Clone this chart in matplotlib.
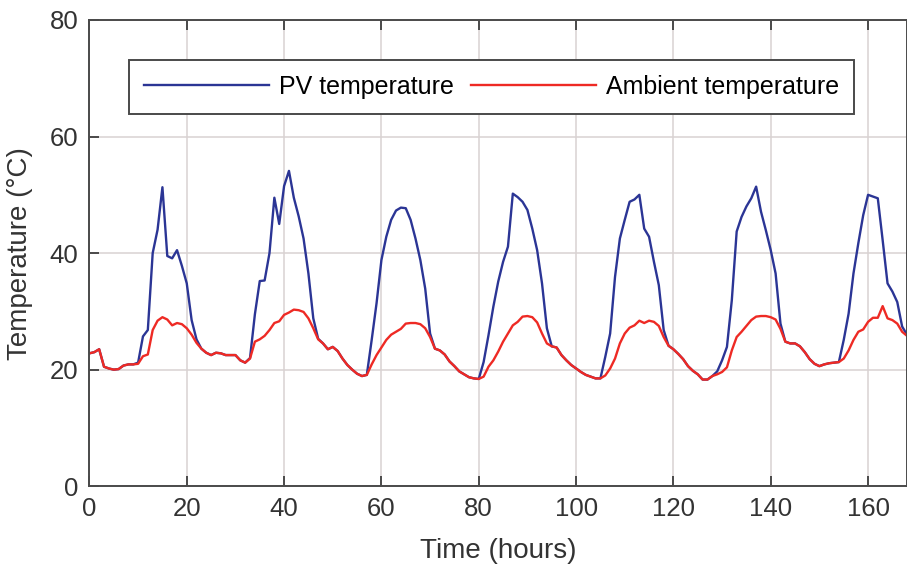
import matplotlib
matplotlib.use("Agg")
import matplotlib.pyplot as plt
import numpy as np

plt.rcParams['font.family'] = ['Liberation Sans', 'DejaVu Sans']

# hourly readings, one week
hours = np.arange(0, 169)

ambient = [
    22.8, 23.0, 23.5, 20.5, 20.2, 20.0, 20.1, 20.7, 20.9, 20.9, 21.0, 22.3,
    22.6, 26.8, 28.4, 29.0, 28.6, 27.6, 28.0, 27.8, 27.1, 26.0, 24.6, 23.6,
    22.9, 22.5, 22.9, 22.8, 22.5, 22.5, 22.5, 21.6, 21.2, 21.9, 24.8, 25.2,
    25.8, 26.8, 28.0, 28.3, 29.4, 29.8, 30.3, 30.2, 29.9, 28.8, 27.1, 25.2,
    24.5, 23.5, 23.9, 23.2, 21.9, 20.8, 20.0, 19.3, 18.9, 19.1, 20.9, 22.5,
    23.8, 25.1, 26.0, 26.5, 27.0, 27.9, 28.0, 28.0, 27.8, 27.1, 25.6, 23.6,
    23.3, 22.6, 21.4, 20.6, 19.7, 19.2, 18.7, 18.5, 18.4, 18.8, 20.5, 21.6,
    23.1, 24.8, 26.2, 27.6, 28.2, 29.1, 29.2, 29.0, 28.1, 26.2, 24.5, 24.0,
    23.8, 22.5, 21.6, 20.8, 20.2, 19.6, 19.1, 18.8, 18.5, 18.5, 19.0, 20.2,
    21.9, 24.5, 26.2, 27.2, 27.6, 28.4, 28.0, 28.4, 28.2, 27.5, 25.6, 24.1,
    23.5, 22.7, 21.8, 20.6, 19.8, 19.2, 18.3, 18.3, 18.9, 19.2, 19.6, 20.4,
    23.3, 25.6, 26.5, 27.5, 28.5, 29.1, 29.2, 29.2, 29.0, 28.6, 27.0, 24.8,
    24.5, 24.5, 24.0, 23.0, 21.8, 21.0, 20.6, 20.9, 21.1, 21.2, 21.3, 21.9,
    23.3, 25.1, 26.5, 26.9, 28.2, 28.9, 28.9, 30.9, 28.8, 28.5, 27.9, 26.5,
    25.8,
]

pv = [
    22.8, 23.0, 23.5, 20.5, 20.2, 20.0, 20.1, 20.7, 20.9, 20.9, 21.2, 25.7,
    26.8, 40.0, 44.0, 51.3, 39.5, 39.1, 40.5, 37.8, 34.8, 28.5, 25.2, 23.6,
    22.9, 22.5, 22.9, 22.8, 22.5, 22.5, 22.5, 21.6, 21.2, 22.0, 29.5, 35.2,
    35.3, 40.0, 49.5, 45.0, 51.5, 54.1, 49.5, 46.3, 42.5, 36.5, 28.8, 25.3,
    24.5, 23.5, 23.9, 23.2, 21.9, 20.8, 20.0, 19.3, 18.9, 19.1, 25.1, 31.4,
    38.8, 42.8, 45.7, 47.3, 47.8, 47.7, 45.7, 42.5, 38.8, 33.9, 26.2, 23.6,
    23.3, 22.6, 21.4, 20.6, 19.7, 19.2, 18.7, 18.5, 18.4, 21.3, 25.9, 30.8,
    35.1, 38.5, 41.1, 50.2, 49.6, 48.8, 47.4, 44.2, 40.5, 34.8, 27.1, 24.0,
    23.8, 22.5, 21.6, 20.8, 20.2, 19.6, 19.1, 18.8, 18.5, 18.5, 22.2, 26.2,
    35.9, 42.5, 45.7, 48.8, 49.2, 50.0, 44.2, 42.8, 38.5, 34.5, 26.8, 24.1,
    23.5, 22.7, 21.8, 20.6, 19.8, 19.2, 18.3, 18.3, 18.9, 19.7, 21.6, 23.9,
    31.9, 43.7, 46.2, 48.0, 49.4, 51.4, 47.1, 43.9, 40.5, 36.5, 27.9, 24.8,
    24.5, 24.5, 24.0, 23.0, 21.8, 21.0, 20.6, 20.9, 21.1, 21.2, 21.3, 25.1,
    29.6, 36.5, 41.7, 46.5, 50.0, 49.7, 49.4, 42.2, 34.8, 33.4, 31.6, 27.4,
    26.0,
]

xticks = [0, 20, 40, 60, 80, 100, 120, 140, 160]
yticks = [0, 20, 40, 60, 80]

fig = plt.figure(figsize=(9.07, 5.70), dpi=100)
ax = fig.add_axes([0.0986, 0.147, 0.9014, 0.818])

ax.plot(hours, pv, color='#2b3595', lw=1.7, label='PV temperature')
ax.plot(hours, ambient, color='#ee2a24', lw=1.7, label='Ambient temperature')

ax.set_xlim(0, 168)
ax.set_ylim(0, 80)
ax.set_xticks(xticks)
ax.set_yticks(yticks)
ax.grid(True, color='#d8d2d2', lw=1.1)
ax.set_axisbelow(True)

for s in ax.spines.values():
    s.set_color('#4a4a4a')
    s.set_linewidth(1.4)
ax.tick_params(direction='in', length=7, width=1.4, color='#4a4a4a',
               top=True, labelsize=18.5, labelcolor='#333333', pad=8)

ax.set_xlabel('Time (hours)', fontsize=20, color='#333333', labelpad=12)
ax.set_ylabel('Temperature (°C)', fontsize=20, color='#333333', labelpad=12)

leg = ax.legend(loc='upper center', bbox_to_anchor=(0.492, 0.914), ncol=2,
                fontsize=18, handlelength=5.0, handletextpad=0.4,
                columnspacing=0.7, borderpad=0.6, borderaxespad=0,
                fancybox=False, framealpha=1)
leg.get_frame().set_edgecolor('#4a4a4a')
leg.get_frame().set_linewidth(1.4)

fig.savefig('out.png', dpi=100)
